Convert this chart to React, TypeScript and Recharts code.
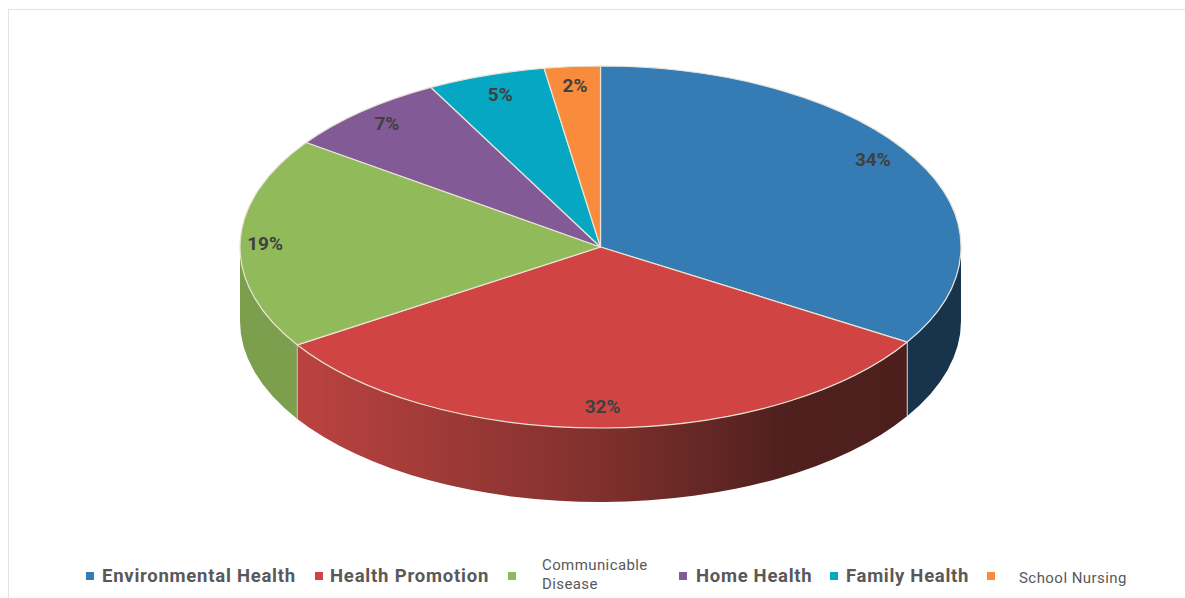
import React from "react";
import { PieChart, Pie, Legend } from "recharts";

const CATEGORIES = ["Environmental Health", "Health Promotion", "Communicable Disease", "Home Health", "Family Health", "School Nursing"];
const VALUES = [33.8, 32.1, 18.9, 7.4, 5.3, 2.5];
const LABELS = ["34%", "32%", "19%", "7%", "5%", "2%"];

const COLORS = ["#357cb5", "#d04543", "#91ba5a", "#825a96", "#06a7c3", "#f88c3c"];
const WALLS: Record<string, string> = { "#357cb5": "#17344c", "#d04543": "url(#redWall)", "#91ba5a": "#7c9f4e" };
const LABEL_NUDGE = [[-11, -8], [-1, -3], [-11, 0], [1, -1], [3, 2], [0, 1]];

const LEGEND_LAYOUT = [
  { mark: 86, text: 102, width: 210, bold: true, size: 18.5, dy: 0, spacing: 0.75 },
  { mark: 315, text: 330, width: 175, bold: true, size: 18.5, dy: 0, spacing: 0.8 },
  { mark: 508, text: 542, width: 116, bold: false, size: 15, dy: -1, spacing: 0.4 },
  { mark: 679, text: 696, width: 130, bold: true, size: 18.5, dy: 0, spacing: 0.7 },
  { mark: 830, text: 846, width: 135, bold: true, size: 18.5, dy: 0, spacing: 0.7 },
  { mark: 987, text: 1019, width: 125, bold: false, size: 15, dy: 2, spacing: 0.45 },
];

const table = CATEGORIES.map((name, i) => ({ name, value: VALUES[i], fill: COLORS[i] }));

const RAD = Math.PI / 180;
const SQUASH = 181 / 360.5;
const DEPTH = 74;
const SEAM = "#e9e3d6";

function Slice3D(props: any) {
  const { cx, cy, outerRadius: rx, startAngle, endAngle, fill } = props;
  const ry = rx * SQUASH;
  const p = (a: number) => [cx + rx * Math.cos(-a * RAD), cy + ry * Math.sin(-a * RAD)];
  const [sx, sy] = p(startAngle);
  const [ex, ey] = p(endAngle);
  const large = Math.abs(startAngle - endAngle) > 180 ? 1 : 0;
  const top = `M${cx},${cy}L${sx},${sy}A${rx},${ry} 0 ${large} 1 ${ex},${ey}Z`;

  const ws = Math.min(startAngle, 0);
  const we = Math.max(endAngle, -180);
  let wall = null;
  if (ws > we) {
    const [ax, ay] = p(ws);
    const [bx, by] = p(we);
    wall = (
      <g>
        <path
          d={`M${ax},${ay}A${rx},${ry} 0 0 1 ${bx},${by}L${bx},${by + DEPTH}A${rx},${ry} 0 0 0 ${ax},${ay + DEPTH}Z`}
          fill={WALLS[fill] ?? fill}
        />
        {ws === startAngle && <line x1={ax} y1={ay} x2={ax} y2={ay + DEPTH} stroke="#b9b2aa" strokeWidth={1.2} />}
        {we === endAngle && <line x1={bx} y1={by} x2={bx} y2={by + DEPTH} stroke="#d8cfa8" strokeWidth={1.2} />}
      </g>
    );
  }
  return (
    <g>
      {wall}
      <path d={top} fill={fill} stroke={SEAM} strokeWidth={1.2} strokeLinejoin="round" />
    </g>
  );
}

function SliceLabel(props: any) {
  const { cx, cy, outerRadius: rx, midAngle, index } = props;
  const ry = rx * SQUASH;
  const x = cx + 0.9 * rx * Math.cos(-midAngle * RAD) + LABEL_NUDGE[index][0];
  const y = cy + 0.9 * ry * Math.sin(-midAngle * RAD) + LABEL_NUDGE[index][1];
  return (
    <text x={x} y={y} textAnchor="middle" dominantBaseline="central" fill="#404040" fontFamily="Roboto" fontWeight={700} fontSize={19}>
      {LABELS[index]}
    </text>
  );
}

function LegendRow({ payload }: any) {
  return (
    <div style={{ position: "relative", width: 1185, height: 48, fontFamily: "Roboto" }}>
      {(payload ?? []).map((item: any, i: number) => {
        const l = LEGEND_LAYOUT[i];
        return (
          <React.Fragment key={item.value}>
            <span style={{ position: "absolute", left: l.mark, top: 23, width: 8, height: 8, background: item.color }} />
            <span
              style={{
                position: "absolute",
                left: l.text,
                top: l.dy,
                height: 54,
                width: l.width,
                display: "flex",
                alignItems: "center",
                fontWeight: l.bold ? 700 : 400,
                fontSize: l.size,
                letterSpacing: l.spacing,
                lineHeight: "19px",
                color: "#595959",
              }}
            >
              {item.value}
            </span>
          </React.Fragment>
        );
      })}
    </div>
  );
}

export default function App() {
  return (
    <div style={{ position: "absolute", left: 0, top: 0, width: 1185, height: 598, overflow: "hidden", background: "#fff" }}>
      <div style={{ position: "absolute", left: 8, top: 9, width: 1177, height: 589, boxSizing: "border-box", borderTop: "1px solid #e3e3e3", borderLeft: "1px solid #e3e3e3" }} />
      <PieChart width={1185} height={598} margin={{ top: 0, right: 0, bottom: 0, left: 0 }} style={{ position: "absolute", left: 0, top: 0 }}>
        <defs>
          <linearGradient id="redWall" x1="0" y1="0" x2="1" y2="0">
            <stop offset="0" stopColor="#bb4340" />
            <stop offset="0.5" stopColor="#7f302d" />
            <stop offset="0.8" stopColor="#4f201e" />
            <stop offset="1" stopColor="#4c1f1d" />
          </linearGradient>
        </defs>
        <Pie
          data={table}
          dataKey="value"
          nameKey="name"
          cx={600.5}
          cy={247}
          innerRadius={0}
          outerRadius={360.5}
          startAngle={90}
          endAngle={-270}
          paddingAngle={0}
          stroke="none"
          shape={Slice3D}
          label={SliceLabel}
          labelLine={false}
          isAnimationActive={false}
        />
        <Legend
          content={LegendRow}
          itemSorter={null}
          verticalAlign="bottom"
          wrapperStyle={{ left: 0, top: 549, bottom: "auto", width: 1185, height: 48 }}
        />
      </PieChart>
    </div>
  );
}
